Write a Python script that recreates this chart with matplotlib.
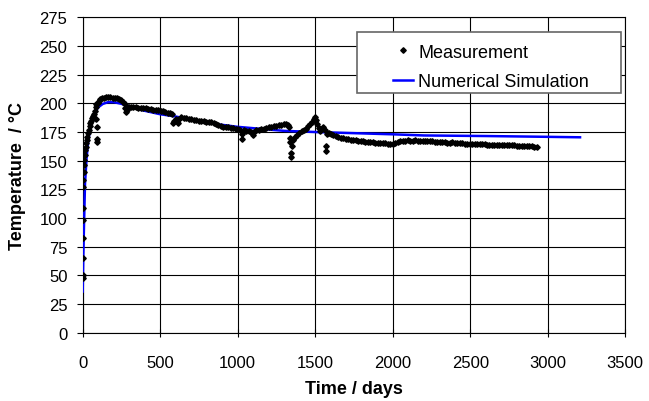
import matplotlib
matplotlib.use("Agg")
import matplotlib.pyplot as plt
from matplotlib.patches import Rectangle
from matplotlib.lines import Line2D

plt.rcParams['font.family'] = ['Liberation Sans', 'DejaVu Sans']

meas_days = [0, 0, 1, 1, 2, 2, 3, 5, 7, 9, 11, 13, 16, 19, 22, 26, 30, 34, 39, 44,
             50, 56, 62, 68, 74, 80, 84, 88, 88, 90, 92, 92, 96, 104, 114, 124, 136, 150, 163, 178,
             193, 208, 222, 236, 250, 262, 271, 276, 281, 287, 296, 310, 326, 342, 358, 374, 390, 406, 422, 438,
             454, 470, 486, 502, 518, 534, 550, 566, 578, 583, 590, 604, 615, 624, 636, 652, 668, 684, 700, 716,
             732, 748, 764, 780, 796, 812, 828, 844, 860, 876, 892, 908, 924, 940, 956, 972, 988, 1004, 1016, 1026,
             1028, 1040, 1056, 1072, 1088, 1101, 1108, 1120, 1136, 1152, 1168, 1184, 1200, 1216, 1232, 1248, 1264, 1280, 1296, 1310,
             1322, 1330, 1336, 1338, 1342, 1344, 1348, 1356, 1370, 1384, 1398, 1412, 1426, 1440, 1454, 1466, 1478, 1490, 1499, 1506,
             1514, 1522, 1531, 1542, 1552, 1562, 1570, 1571, 1574, 1586, 1600, 1616, 1632, 1648, 1664, 1680, 1696, 1712, 1728, 1744,
             1760, 1776, 1792, 1808, 1824, 1840, 1856, 1872, 1888, 1904, 1920, 1936, 1952, 1968, 1984, 2000, 2016, 2032, 2048, 2064,
             2080, 2096, 2112, 2128, 2144, 2160, 2176, 2192, 2208, 2224, 2240, 2256, 2272, 2288, 2304, 2320, 2336, 2352, 2368, 2384,
             2400, 2416, 2432, 2448, 2464, 2480, 2496, 2512, 2528, 2544, 2560, 2576, 2592, 2608, 2624, 2640, 2656, 2672, 2688, 2704,
             2720, 2736, 2752, 2768, 2784, 2800, 2816, 2832, 2848, 2864, 2880, 2896, 2912, 2928]
meas_temps = [48, 50, 65, 83, 98, 109, 127, 133, 140, 146, 151, 155, 159, 162, 165, 168, 171, 174, 177, 180,
              183, 185, 187, 189, 191, 193, 197, 199, 186, 179, 169, 166, 200, 202, 203.5, 204.5, 205, 205.5, 205.5, 205.5,
              205, 205, 204.5, 203.5, 202.5, 201, 199.5, 196, 192.5, 194, 196.5, 197, 196.8, 196.5, 196.3, 196, 195.8, 195.5, 195, 194.8,
              194.5, 194.2, 194, 193.7, 193, 192.5, 192, 191.3, 190.5, 182.5, 185, 186, 182.5, 186.5, 188, 187.5, 187, 186.5, 186, 185.7,
              185.3, 185, 184.7, 184.3, 184, 183.8, 183.5, 183, 182, 181, 180, 179.7, 179.3, 179, 178.7, 178.3, 178, 178, 177, 169,
              173.5, 176.5, 176, 175.5, 175, 172, 175, 176.5, 177, 177.5, 178, 178.5, 179, 179.5, 180, 180.5, 181, 181.5, 182, 182.3,
              181, 179, 170, 166, 153.5, 157, 163, 168, 170.5, 172.5, 174, 175.5, 176.5, 178, 180, 182, 184, 186.5, 188, 185.5,
              182, 178.5, 176, 177.5, 179, 176.5, 163, 158.5, 173.5, 174, 173, 172, 171.3, 170.6, 170, 169.6, 169.2, 168.8, 168.4, 168,
              167.7, 167.4, 167.2, 167, 166.7, 166.4, 166.2, 166, 165.7, 165.5, 165.3, 165.1, 165, 164.9, 164.8, 164.7, 165, 166.5, 167.4, 167.6,
              167.5, 167.7, 167.6, 167.5, 167.7, 167.6, 167.5, 167.3, 167.2, 167, 166.9, 166.8, 166.6, 166.5, 166.3, 166.1, 166, 165.8, 165.7, 165.9,
              165.4, 165.2, 165.1, 165, 164.9, 164.8, 164.7, 164.6, 164.5, 164.4, 164.3, 164.2, 164.2, 164.1, 164, 164, 163.9, 163.9, 163.8, 163.8,
              163.7, 163.6, 163.5, 163.4, 163.3, 163.2, 163.1, 163, 162.9, 162.7, 162.5, 162.4, 162.2, 162]

# numerical simulation
sim_days = [0, 3, 8, 15, 25, 35, 50, 70, 100, 130, 163, 200, 250, 300, 400, 500, 600, 800,
            1000, 1300, 1500, 2000, 2200, 2600, 3000, 3208]
sim_temps = [36, 60, 91, 130, 152, 166, 180, 190, 196.5, 199.5, 201, 201, 199.6, 197, 193.5, 190.5, 188.5, 183,
             179.5, 176, 175, 173, 172, 171.5, 170.8, 170.4]

x_ticks = [0, 500, 1000, 1500, 2000, 2500, 3000, 3500]
y_ticks = [0, 25, 50, 75, 100, 125, 150, 175, 200, 225, 250, 275]

fig = plt.figure(figsize=(6.49, 4.02), dpi=100)
ax = fig.add_axes([0.1274, 0.1697, 0.8361, 0.7848])

ax.plot(sim_days, sim_temps, color='#0000ff', lw=1.8, zorder=3)
ax.plot(meas_days, meas_temps, ls='none', marker='D', ms=2.8, color='black', zorder=4)

ax.set_xlim(0, 3500)
ax.set_ylim(0, 275)
ax.set_xticks(x_ticks)
ax.set_yticks(y_ticks)
ax.grid(True, color='black', lw=0.8)
ax.set_axisbelow(True)
for s in ax.spines.values():
    s.set_color('black')
    s.set_linewidth(0.8)

ax.tick_params(axis='x', direction='inout', length=6, width=0.8, pad=13, labelsize=12)
ax.tick_params(axis='y', direction='out', length=4, width=0.8, pad=7, labelsize=12)

ax.set_xlabel('Time / days', fontsize=13, fontweight='bold')
ax.xaxis.set_label_coords(0.5, -0.15)
ax.set_ylabel('Temperature  / °C', fontsize=13, fontweight='bold')
ax.yaxis.set_label_coords(-0.104, 0.5)

# legend frame drawn separately so the entries can sit where they do in the original
ax.add_patch(Rectangle((0.506, 0.760), 0.486, 0.194, transform=ax.transAxes,
                       facecolor='white', edgecolor='#666666', lw=1.2, zorder=5))
handles = [Line2D([], [], ls='none', marker='D', ms=2.8, color='black'),
           Line2D([], [], color='#0000ff', lw=1.8)]
leg = ax.legend(handles, ['Measurement', 'Numerical Simulation'], loc='upper left',
                bbox_to_anchor=(0.545, 0.962), frameon=False, fontsize=13,
                handlelength=1.1, handletextpad=0.3, labelspacing=0.7, borderpad=0.3)
leg.set_zorder(6)

fig.savefig('out.png', dpi=100)
